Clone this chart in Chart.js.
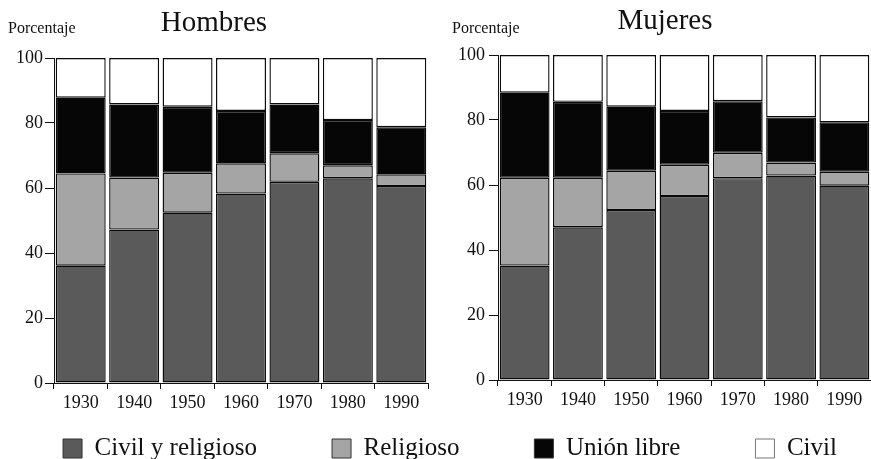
<!DOCTYPE html>
<html><head><meta charset="utf-8">
<script src="https://cdn.jsdelivr.net/npm/chart.js@4.4.1/dist/chart.umd.min.js"></script>
<style>
html,body{margin:0;padding:0;background:#fff;overflow:hidden;width:871px;height:459px;position:relative;}
canvas{position:absolute;}
#c1{left:0;top:0;}
#c2{left:435px;top:-3px;}
#c3{left:-50px;top:361px;}
</style></head><body>
<canvas id="c1" width="435" height="420"></canvas>
<canvas id="c2" width="436" height="420"></canvas>
<canvas id="c3" width="1000" height="240"></canvas>
<script>
const years = ['1930','1940','1950','1960','1970','1980','1990'];
const seriesNames = ['Civil y religioso','Religioso','Unión libre','Civil'];
const seriesColors = ['#5a5a5a','#a5a5a5','#060606','#ffffff'];
const yTicks = [0,20,40,60,80,100];

const hombresCivilReligioso = [36.1, 47.2, 52.4, 58.3, 61.9, 63.0, 60.6];
const hombresReligioso      = [28.4, 16.0, 12.3,  9.3,  8.8,  4.0,  3.6];
const hombresUnionLibre     = [23.3, 22.5, 20.3, 16.1, 15.0, 13.9, 14.5];
const hombresCivil          = [12.2, 14.3, 15.0, 16.3, 14.3, 19.1, 21.3];

const mujeresCivilReligioso = [35.2, 47.0, 52.3, 56.6, 62.1, 62.9, 59.8];
const mujeresReligioso      = [27.0, 15.2, 12.1,  9.6,  7.8,  4.0,  4.3];
const mujeresUnionLibre     = [26.2, 23.4, 19.7, 16.6, 15.9, 13.9, 15.2];
const mujeresCivil          = [11.6, 14.4, 15.9, 17.2, 14.2, 19.2, 20.7];

Chart.defaults.font.family = '"Liberation Serif", "Times New Roman", serif';
Chart.defaults.color = '#111';
Chart.defaults.animation = false;

const cornerLabel = {
  id: 'cornerLabel',
  afterDraw(chart, args, opts) {
    if (!opts || !opts.text) return;
    const ctx = chart.ctx;
    ctx.save();
    ctx.font = '16px "Liberation Serif", serif';
    ctx.fillStyle = '#111';
    ctx.textBaseline = 'alphabetic';
    ctx.textAlign = 'left';
    ctx.fillText(opts.text, chart.chartArea.left + opts.dx, opts.y);
    ctx.restore();
  }
};

function makeDatasets(values) {
  return values.map((v, i) => ({
    label: seriesNames[i],
    data: v,
    backgroundColor: seriesColors[i],
    borderColor: '#0a0a0a',
    borderWidth: 1.4,
    borderSkipped: false,
    barPercentage: 0.935,
    categoryPercentage: 1.0
  }));
}

function makeChart(id, title, values, cfg) {
  return new Chart(document.getElementById(id), {
    type: 'bar',
    data: { labels: years, datasets: makeDatasets(values) },
    plugins: [cornerLabel],
    options: {
      responsive: false,
      layout: { padding: { left: cfg.padL, right: cfg.padR, top: 0, bottom: 0 } },
      plugins: {
        legend: { display: false },
        tooltip: { enabled: false },
        title: {
          display: true, text: title,
          font: { size: 29, weight: 'normal' }, color: '#111',
          padding: { top: cfg.titleTop, bottom: cfg.titleBottom }
        },
        cornerLabel: { text: 'Porcentaje', dx: -46, y: cfg.labelY }
      },
      scales: {
        x: {
          stacked: true,
          grid: { display: true, drawOnChartArea: false, drawTicks: true, tickLength: 6, color: '#111', offset: true },
          border: { display: true, color: '#111', width: 1 },
          ticks: { font: { size: 18 }, color: '#111', padding: 3 },
          afterFit(s) { s.height = 37; }
        },
        y: {
          stacked: true, min: 0, max: 100,
          afterBuildTicks(s) { s.ticks = yTicks.map(v => ({ value: v })); },
          grid: { display: true, drawOnChartArea: false, drawTicks: true, tickLength: 9, color: '#111' },
          border: { display: true, color: '#111', width: 1 },
          ticks: { font: { size: 18 }, color: '#111', padding: cfg.yPad },
          afterFit(s) { s.width = cfg.yWidth; }
        }
      }
    }
  });
}

makeChart('c1', 'Hombres', [hombresCivilReligioso, hombresReligioso, hombresUnionLibre, hombresCivil],
  { padL: 0, padR: 7, yWidth: 54, yPad: 2, titleTop: 6, titleBottom: 17.2, labelY: 33 });
makeChart('c2', 'Mujeres', [mujeresCivilReligioso, mujeresReligioso, mujeresUnionLibre, mujeresCivil],
  { padL: 24, padR: 0, yWidth: 39, yPad: 4, titleTop: 7.4, titleBottom: 15.8, labelY: 36 });

new Chart(document.getElementById('c3'), {
  type: 'bar',
  data: {
    labels: [],
    datasets: seriesNames.map((n, i) => ({
      label: n, data: [], backgroundColor: seriesColors[i],
      borderColor: i === 3 ? '#777' : '#333', borderWidth: 1
    }))
  },
  options: {
    responsive: false,
    layout: { padding: 0 },
    scales: { x: { display: false }, y: { display: false } },
    plugins: {
      tooltip: { enabled: false },
      title: { display: false },
      legend: {
        display: true, position: 'top', align: 'center',
        labels: { font: { size: 25 }, color: '#111', boxWidth: 19, boxHeight: 19, padding: 75 }
      }
    }
  }
});
</script>
</body></html>
